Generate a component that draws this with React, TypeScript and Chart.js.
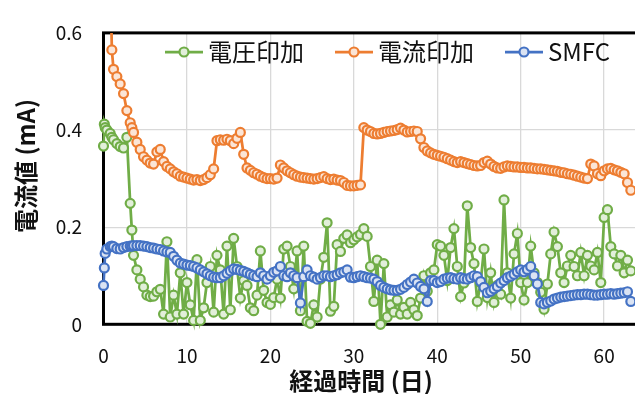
import React, { useEffect, useRef } from "react";
import { Chart, registerables } from "chart.js";

Chart.register(...registerables);

// Elapsed time (days) at which all three currents were logged
const days = [
  0, 0.1, 0.2, 0.4, 0.8, 1.0, 1.2, 1.6, 2.0, 2.4, 2.8, 3.2, 3.4, 3.6, 4.0,
  4.4, 4.8, 5.2, 5.6, 6.0, 6.4, 6.8, 7.2, 7.6, 8.0,
  8.4, 8.8, 9.2, 9.6, 10.0, 10.4, 10.8, 11.2, 11.6, 12.0,
  12.4, 12.8, 13.2, 13.6, 14.0, 14.4, 14.8, 15.2, 15.6, 16.0,
  16.4, 16.8, 17.2, 17.6, 18.0, 18.4, 18.8, 19.2, 19.6, 20.0,
  20.4, 20.8, 21.2, 21.6, 22.0, 22.4, 22.8, 23.2, 23.6, 24.0,
  24.4, 24.8, 25.2, 25.6, 26.0, 26.4, 26.8, 27.2, 27.6, 28.0,
  28.4, 28.8, 29.2, 29.6, 30.0, 30.4, 30.8, 31.2, 31.6, 32.0,
  32.4, 32.8, 33.2, 33.6, 34.0, 34.4, 34.8, 35.2, 35.6, 36.0,
  36.4, 36.8, 37.2, 37.6, 38.0, 38.4, 38.8, 39.2, 39.6, 40.0,
  40.4, 40.8, 41.2, 41.6, 42.0, 42.4, 42.8, 43.2, 43.6, 44.0,
  44.4, 44.8, 45.2, 45.6, 46.0, 46.4, 46.8, 47.2, 47.6, 48.0,
  48.4, 48.8, 49.2, 49.6, 50.0, 50.4, 50.8, 51.2, 51.6, 52.0,
  52.4, 52.8, 53.2, 53.6, 54.0, 54.4, 54.8, 55.2, 55.6, 56.0,
  56.4, 56.8, 57.2, 57.6, 58.0, 58.4, 58.8, 59.2, 59.6, 60.0,
  60.4, 60.8, 61.2, 61.6, 62.0, 62.4, 62.8, 63.2,
];

// 電圧印加 (mA)
const voltageApplied = [
  0.367, 0.412, 0.405, 0.4, 0.393, 0.385, 0.38, 0.372, 0.366, 0.363, 0.385, 0.249, 0.194, 0.142, 0.112,
  0.093, 0.077, 0.06, 0.057, 0.058, 0.067, 0.072, 0.021, 0.17, 0.015,
  0.06, 0.021, 0.106, 0.021, 0.086, 0.04, 0.008, 0.133, 0.008, 0.034,
  0.086, 0.119, 0.025, 0.142, 0.112, 0.021, 0.161, 0.03, 0.177, 0.119,
  0.054, 0.09, 0.08, 0.034, 0.028, 0.06, 0.151, 0.07, 0.045, 0.041,
  0.055, 0.093, 0.054, 0.155, 0.161, 0.119, 0.073, 0.151, 0.028, 0.161,
  0.006, 0.002, 0.04, 0.015, 0.093, 0.138, 0.209, 0.027, 0.037, 0.164,
  0.15, 0.177, 0.184, 0.168, 0.174, 0.18, 0.185, 0.197, 0.181, 0.119,
  0.047, 0.132, 0.0, 0.125, 0.015, 0.04, 0.025, 0.05, 0.021, 0.035,
  0.021, 0.045, 0.03, 0.018, 0.054, 0.1, 0.068, 0.106, 0.112, 0.164,
  0.161, 0.142, 0.09, 0.158, 0.197, 0.119, 0.057, 0.085, 0.244, 0.158,
  0.125, 0.047, 0.086, 0.155, 0.055, 0.106, 0.045, 0.08, 0.062, 0.256,
  0.106, 0.054, 0.145, 0.187, 0.086, 0.05, 0.086, 0.161, 0.106, 0.086,
  0.066, 0.031, 0.083, 0.145, 0.19, 0.16, 0.106, 0.086, 0.12, 0.142,
  0.119, 0.1, 0.148, 0.1, 0.142, 0.12, 0.112, 0.148, 0.086, 0.22,
  0.236, 0.16, 0.145, 0.12, 0.142, 0.106, 0.132, 0.11,
];

// 電流印加 (mA)
const currentApplied = [
  null, null, null, null, 0.75, 0.565, 0.525, 0.51, 0.495, 0.475, 0.44, 0.415, 0.405, 0.395, 0.375,
  0.36, 0.345, 0.338, 0.332, 0.33, 0.355, 0.36, 0.335, 0.325, 0.32,
  0.314, 0.31, 0.305, 0.303, 0.301, 0.299, 0.297, 0.298, 0.296, 0.298,
  0.302, 0.308, 0.32, 0.378, 0.38, 0.379, 0.381, 0.378, 0.372, 0.383,
  0.395, 0.35, 0.322, 0.317, 0.312, 0.309, 0.305, 0.302, 0.3, 0.3,
  0.299, 0.301, 0.328, 0.322, 0.316, 0.312, 0.308, 0.305, 0.303, 0.302,
  0.301, 0.3, 0.299, 0.3, 0.302, 0.304, 0.3, 0.298, 0.299, 0.297,
  0.296, 0.292, 0.286, 0.285, 0.285, 0.286, 0.287, 0.405, 0.4, 0.397,
  0.393, 0.392, 0.393, 0.395, 0.397, 0.398, 0.399, 0.401, 0.404, 0.4,
  0.396, 0.397, 0.398, 0.397, 0.382, 0.364, 0.357, 0.353, 0.35, 0.348,
  0.346, 0.344, 0.341, 0.338, 0.335, 0.333, 0.335, 0.333, 0.331, 0.329,
  0.327, 0.326, 0.327, 0.333, 0.336, 0.33, 0.325, 0.322, 0.321, 0.324,
  0.326, 0.325, 0.324, 0.324, 0.323, 0.323, 0.322, 0.322, 0.321, 0.32,
  0.32, 0.319, 0.318, 0.317, 0.316, 0.315, 0.313, 0.312, 0.31, 0.309,
  0.307, 0.305, 0.303, 0.301, 0.3, 0.33, 0.326, 0.31, 0.306, 0.316,
  0.32, 0.321, 0.318, 0.316, 0.313, 0.31, 0.292, 0.276,
];

// SMFC (mA)
const smfc = [
  0.08, 0.116, 0.146, 0.155, 0.16, 0.161, 0.16, 0.156, 0.155, 0.158, 0.16, 0.161, 0.161, 0.162, 0.162,
  0.162, 0.161, 0.16, 0.158, 0.157, 0.155, 0.154, 0.151, 0.149, 0.148,
  0.14, 0.132, 0.126, 0.124, 0.122, 0.121, 0.119, 0.116, 0.112, 0.108,
  0.104, 0.1, 0.097, 0.096, 0.096, 0.1, 0.105, 0.11, 0.114, 0.113,
  0.111, 0.109, 0.106, 0.103, 0.1, 0.098, 0.106, 0.1, 0.093, 0.1,
  0.107, 0.11, 0.119, 0.1, 0.098, 0.106, 0.1, 0.096, 0.044, 0.098,
  0.112, 0.1, 0.097, 0.093, 0.096, 0.1, 0.1, 0.098, 0.1, 0.102,
  0.106, 0.108, 0.112, 0.097, 0.096, 0.098, 0.1, 0.098, 0.096, 0.095,
  0.093, 0.088, 0.08, 0.076, 0.073, 0.071, 0.07, 0.07, 0.072, 0.076,
  0.082, 0.087, 0.093, 0.085, 0.078, 0.073, 0.047, 0.09, 0.09, 0.086,
  0.088, 0.093, 0.095, 0.096, 0.094, 0.093, 0.096, 0.094, 0.093, 0.096,
  0.1, 0.098, 0.088, 0.076, 0.065, 0.068, 0.073, 0.078, 0.085, 0.09,
  0.096, 0.099, 0.103, 0.108, 0.112, 0.108, 0.113, 0.119, 0.1, 0.083,
  0.045, 0.042, 0.045, 0.048, 0.052, 0.054, 0.056, 0.057, 0.058, 0.059,
  0.06, 0.061, 0.061, 0.062, 0.062, 0.061, 0.06, 0.06, 0.061, 0.062,
  0.062, 0.063, 0.062, 0.063, 0.064, 0.065, 0.067, 0.047,
];

const seriesNames = ["電圧印加", "電流印加", "SMFC"];
const xTickValues = [0, 10, 20, 30, 40, 50, 60];
const yTickValues = [0, 0.2, 0.4, 0.6];
const xTitle = "経過時間 (日)";
const yTitle = "電流値 (mA)";

const FONT = '"Noto Sans CJK JP", "Noto Sans", sans-serif';
const LINE_COLORS = ["#70AD47", "#ED7D31", "#4472C4"];
const FILL_COLORS = ["#E2EFDA", "#FBE5D6", "#DAE3F3"];
const TEXT_COLOR = "#111111";

const toPoints = (vals: (number | null)[]) =>
  days.map((d, i) => ({ x: d, y: vals[i] }));

// Black frame around the plot area, under the markers
const framePlugin = {
  id: "plotFrame",
  beforeDatasetsDraw(chart: any) {
    const { ctx, chartArea } = chart;
    ctx.save();
    ctx.strokeStyle = "#000";
    ctx.lineWidth = 3;
    ctx.strokeRect(
      chartArea.left,
      chartArea.top,
      chartArea.right - chartArea.left,
      chartArea.bottom - chartArea.top
    );
    ctx.restore();
  },
};

// Legend row drawn inside the plot area, near the top
const legendPlugin = {
  id: "insideLegend",
  afterDatasetsDraw(chart: any) {
    const { ctx } = chart;
    const y = 52;
    const lineLen = 38;
    let x = 165;
    ctx.save();
    ctx.font = `24px ${FONT}`;
    ctx.textBaseline = "middle";
    ctx.textAlign = "left";
    seriesNames.forEach((name, i) => {
      ctx.strokeStyle = LINE_COLORS[i];
      ctx.lineWidth = 2.75;
      ctx.beginPath();
      ctx.moveTo(x, y);
      ctx.lineTo(x + lineLen, y);
      ctx.stroke();
      ctx.beginPath();
      ctx.arc(x + lineLen / 2, y, 4.5, 0, Math.PI * 2);
      ctx.fillStyle = FILL_COLORS[i];
      ctx.fill();
      ctx.lineWidth = 2.2;
      ctx.stroke();
      ctx.fillStyle = TEXT_COLOR;
      const tx = x + lineLen + 5;
      ctx.fillText(name, tx, y);
      x = tx + ctx.measureText(name).width + 31;
    });
    ctx.restore();
  },
};

// Axis titles
const titlePlugin = {
  id: "axisTitles",
  afterDraw(chart: any) {
    const { ctx } = chart;
    ctx.save();
    ctx.fillStyle = TEXT_COLOR;
    ctx.font = `bold 24px ${FONT}`;
    ctx.textAlign = "center";
    ctx.textBaseline = "middle";
    ctx.fillText(xTitle, 361, 381);
    ctx.translate(26, 166);
    ctx.rotate(-Math.PI / 2);
    ctx.fillText(yTitle, 0, 0);
    ctx.restore();
  },
};

export default function App() {
  const canvasRef = useRef<HTMLCanvasElement | null>(null);

  useEffect(() => {
    const canvas = canvasRef.current;
    if (!canvas) return;
    const seriesValues = [voltageApplied, currentApplied, smfc];
    const drawOrder = [3, 2, 1];
    const chart = new Chart(canvas, {
      type: "line",
      data: {
        datasets: seriesValues.map((vals, i) => ({
          label: seriesNames[i],
          data: toPoints(vals),
          borderColor: LINE_COLORS[i],
          backgroundColor: FILL_COLORS[i],
          pointBackgroundColor: FILL_COLORS[i],
          pointBorderColor: LINE_COLORS[i],
          pointRadius: 4.5,
          pointBorderWidth: 2.2,
          borderWidth: 2.75,
          tension: 0,
          order: drawOrder[i],
          clip: { left: 8, top: 0, right: 8, bottom: 8 },
        })) as any,
      },
      options: {
        responsive: false,
        animation: false,
        devicePixelRatio: 1,
        layout: { padding: { left: 0, top: 16.8, right: 12.5, bottom: 0 } },
        plugins: {
          legend: { display: false },
          tooltip: { enabled: false },
        },
        scales: {
          x: {
            type: "linear",
            min: 0,
            max: 64,
            afterFit: (s: any) => {
              s.height = 69.7;
            },
            afterBuildTicks: (s: any) => {
              s.ticks = xTickValues.map((v) => ({ value: v }));
            },
            grid: { color: "#d9d9d9", lineWidth: 1.3, drawTicks: false },
            border: { display: false },
            ticks: {
              font: { family: FONT, size: 19 },
              color: TEXT_COLOR,
              padding: 20,
              maxRotation: 0,
              autoSkip: false,
              callback: (v: any) => String(v),
            },
          },
          y: {
            type: "linear",
            min: 0,
            max: 0.6,
            afterFit: (s: any) => {
              s.width = 103.5;
            },
            afterBuildTicks: (s: any) => {
              s.ticks = yTickValues.map((v) => ({ value: v }));
            },
            grid: { color: "#d9d9d9", lineWidth: 1.3, drawTicks: false },
            border: { display: false },
            ticks: {
              font: { family: FONT, size: 19 },
              color: TEXT_COLOR,
              padding: 21.5,
              autoSkip: false,
              callback: (v: any) => (v === 0 ? "0" : Number(v).toFixed(1)),
            },
          },
        },
      },
      plugins: [framePlugin, legendPlugin, titlePlugin],
    });
    return () => chart.destroy();
  }, []);

  return (
    <div
      style={{
        position: "fixed",
        left: 0,
        top: 0,
        width: 650,
        height: 394,
        overflow: "hidden",
        background: "#fff",
      }}
    >
      <canvas ref={canvasRef} width={650} height={394} />
    </div>
  );
}
